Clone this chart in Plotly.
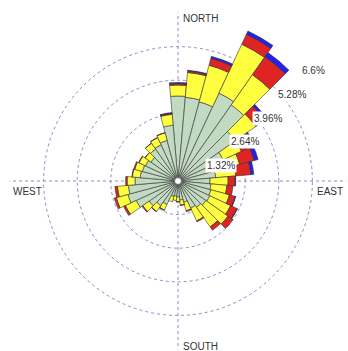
import plotly.graph_objects as go
import math

# ---- data (percent frequency per 10-degree sector, stacked by speed class) ----
directions = [0, 10, 20, 30, 40, 50, 60, 70, 80, 90, 100, 110, 120, 130, 140, 150, 160, 170,
              180, 190, 200, 210, 220, 230, 240, 250, 260, 270, 280, 290, 300, 310, 320, 330, 340, 350]
green = [3.34, 3.30, 3.22, 3.81, 3.65, 2.75, 1.96, 1.65, 1.49, 1.26, 1.30, 1.34, 1.38, 1.34, 1.26, 1.18, 0.86, 0.75,
         0.63, 0.59, 0.63, 1.02, 1.18, 1.38, 1.81, 2.04, 1.96, 1.69, 1.49, 1.45, 1.41, 1.30, 1.53, 1.57, 1.65, 2.20]
yellow = [0.43, 0.98, 1.49, 2.12, 1.45, 0.98, 0.79, 0.86, 0.79, 0.71, 0.63, 0.75, 0.90, 1.06, 0.94, 0.55, 0.35, 0.20,
          0.18, 0.18, 0.22, 0.24, 0.28, 0.31, 0.47, 0.47, 0.43, 0.31, 0.31, 0.31, 0.28, 0.28, 0.28, 0.31, 0.31, 0.43]
red = [0.06, 0.06, 0.28, 0.43, 0.86, 0.43, 0.47, 0.59, 0.59, 0.28, 0.24, 0.24, 0.28, 0.24, 0.16, 0.04, 0.04, 0.02,
       0.02, 0.00, 0.00, 0.02, 0.02, 0.04, 0.08, 0.08, 0.10, 0.06, 0.02, 0.04, 0.02, 0.01, 0.01, 0.01, 0.01, 0.04]
blue = [0.04, 0.03, 0.08, 0.14, 0.20, 0.10, 0.12, 0.16, 0.12, 0.02, 0.00, 0.02, 0.02, 0.00, 0.00, 0.00, 0.00, 0.00,
        0.00, 0.00, 0.00, 0.00, 0.00, 0.00, 0.00, 0.00, 0.00, 0.00, 0.00, 0.00, 0.00, 0.00, 0.00, 0.00, 0.00, 0.03]
ring_values = [1.32, 2.64, 3.96, 5.28, 6.6]
ring_labels = ["1.32%", "2.64%", "3.96%", "5.28%", "6.6%"]
compass_labels = ["NORTH", "EAST", "SOUTH", "WEST"]

series = [("green", green, "#c2d9c2"), ("yellow", yellow, "#ffff40"),
          ("red", red, "#e02424"), ("blue", blue, "#2222ee")]

W, H = 348, 351
CX, CY = 178, 181          # centre of the rose in pixels
RMAX = 6.62
R_PX = 168.5               # outer radius in pixels

fig = go.Figure()
for name, vals, col in series:
    fig.add_trace(go.Barpolar(
        r=vals, theta=directions, width=[10] * len(directions), name=name,
        marker=dict(color=col, line=dict(color="#333333", width=0.6)),
        hoverinfo="skip", showlegend=False))

grid_col = "#8c8cc6"
fig.update_layout(
    width=W, height=H,
    margin=dict(l=0, r=0, t=0, b=0),
    paper_bgcolor="white",
    showlegend=False,
    polar=dict(
        domain=dict(x=[(CX - R_PX) / W, (CX + R_PX) / W],
                    y=[(H - CY - R_PX) / H, (H - CY + R_PX) / H]),
        bgcolor="white",
        barmode="stack",
        bargap=0,
        radialaxis=dict(range=[0, RMAX], tickvals=ring_values, showticklabels=False,
                        ticks="", showline=False, gridcolor=grid_col, gridwidth=1,
                        griddash="dot"),
        angularaxis=dict(direction="clockwise", rotation=90, tickvals=[0, 90, 180, 270],
                         showticklabels=False, ticks="", showline=False,
                         gridcolor=grid_col, gridwidth=1, griddash="dot"),
    ),
)


def px2paper(x, y):
    return x / W, 1 - y / H


ann = []
# ring labels placed along the 45-degree line, just outside each ring
for v, t in zip(ring_values, ring_labels):
    rp = v / RMAX * R_PX
    x = CX + rp * math.sin(math.radians(45))
    y = CY - rp * math.cos(math.radians(45))
    xp, yp = px2paper(x, y)
    ann.append(dict(x=xp, y=yp, xref="paper", yref="paper", text=t, showarrow=False,
                    xanchor="left", yanchor="top", xshift=3, yshift=-1,
                    bgcolor="white", borderpad=1,
                    font=dict(family="Liberation Sans, Arial", size=10, color="#333333")))

# compass labels
comp_pos = {"NORTH": (181, 19, "left"), "EAST": (345, 191, "right"),
            "SOUTH": (181, 346, "left"), "WEST": (11, 191, "left")}
for t in compass_labels:
    x, y, anc = comp_pos[t]
    xp, yp = px2paper(x, y)
    ann.append(dict(x=xp, y=yp, xref="paper", yref="paper", text=t, showarrow=False,
                    xanchor=anc, yanchor="middle",
                    font=dict(family="Liberation Sans, Arial", size=10, color="#333333")))
fig.update_layout(annotations=ann)

# white hub in the centre
r0 = 3.5
fig.add_shape(type="circle", xref="paper", yref="paper",
              x0=(CX - r0) / W, x1=(CX + r0) / W,
              y0=1 - (CY + r0) / H, y1=1 - (CY - r0) / H,
              fillcolor="white", line=dict(color="#555555", width=0.8))

fig.write_html("out.html")
